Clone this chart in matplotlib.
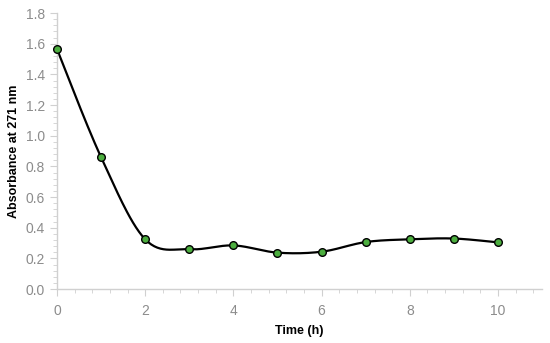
import numpy as np
import matplotlib.pyplot as plt
from matplotlib.ticker import MultipleLocator

time_h = [0, 1, 2, 3, 4, 5, 6, 7, 8, 9, 10]
absorbance = [1.565, 0.86, 0.325, 0.26, 0.285, 0.238, 0.244, 0.307, 0.325, 0.330, 0.305]
y_ticks = [0.0, 0.2, 0.4, 0.6, 0.8, 1.0, 1.2, 1.4, 1.6, 1.8]
x_ticks = [0, 2, 4, 6, 8, 10]

plt.rcParams['font.family'] = ['Liberation Sans', 'DejaVu Sans']


def smooth_curve(xs, ys, n=30):
    # Catmull-Rom spline, like Excel's smoothed line
    x = np.asarray(xs, float)
    y = np.asarray(ys, float)
    px = np.concatenate([[x[0]], x, [x[-1]]])
    py = np.concatenate([[y[0]], y, [y[-1]]])
    out_x, out_y = [], []
    t = np.linspace(0, 1, n)
    for i in range(1, len(px) - 2):
        for p, out in ((px, out_x), (py, out_y)):
            p0, p1, p2, p3 = p[i - 1], p[i], p[i + 1], p[i + 2]
            seg = 0.5 * ((2 * p1) + (-p0 + p2) * t
                         + (2 * p0 - 5 * p1 + 4 * p2 - p3) * t ** 2
                         + (-p0 + 3 * p1 - 3 * p2 + p3) * t ** 3)
            out.extend(seg)
    return np.array(out_x), np.array(out_y)


fig = plt.figure(figsize=(5.5, 3.43), dpi=100)
ax = fig.add_axes([0.1036, 0.157, 0.882, 0.805])

sx, sy = smooth_curve(time_h, absorbance)
ax.plot(sx, sy, color='black', lw=1.6, zorder=2, clip_on=False)
ax.plot(time_h, absorbance, 'o', ms=5.5, mfc='#4cae3f', mec='black', mew=1.0,
        zorder=3, clip_on=False)

ax.set_xlim(0, 11)
ax.set_ylim(0, 1.8)
ax.set_xticks(x_ticks)
ax.set_yticks(y_ticks)
ax.set_yticklabels([f'{v:.1f}' for v in y_ticks])
ax.xaxis.set_minor_locator(MultipleLocator(0.4))
ax.yaxis.set_minor_locator(MultipleLocator(0.04))

for s in ['top', 'right']:
    ax.spines[s].set_visible(False)
for s in ['left', 'bottom']:
    ax.spines[s].set_color('#d0d0d0')
    ax.spines[s].set_linewidth(1.0)

ax.tick_params(which='major', length=5, color='#d0d0d0', labelcolor='#8c8c8c', labelsize=10)
ax.tick_params(which='minor', length=3, color='#d0d0d0')
ax.tick_params(axis='x', pad=6)

ax.set_xlabel('Time (h)', fontsize=9, fontweight='bold', labelpad=5)
ax.set_ylabel('Absorbance at 271 nm', fontsize=9, fontweight='bold', labelpad=4)

fig.savefig('out.png', dpi=100)
